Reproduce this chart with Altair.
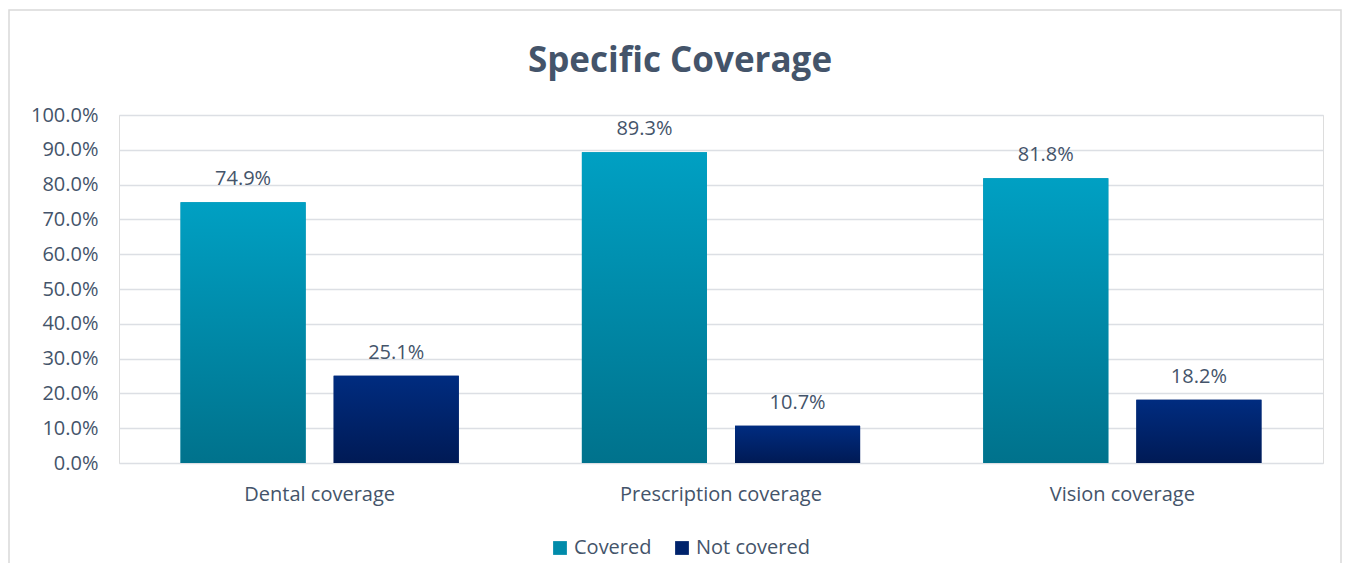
import altair as alt
import pandas as pd

categories = ["Dental coverage", "Prescription coverage", "Vision coverage"]
series_names = ["Covered", "Not covered"]
covered = [0.749, 0.893, 0.818]
not_covered = [0.251, 0.107, 0.182]

rows = []
for c, a, b in zip(categories, covered, not_covered):
    rows.append({"category": c, "series": "Covered", "value": a})
    rows.append({"category": c, "series": "Not covered", "value": b})
df = pd.DataFrame(rows)

TXT = "#44546A"
FONT = "Open Sans"
FS = 20

grad_cov = {"gradient": "linear", "x1": 0, "y1": 0, "x2": 0, "y2": 1,
            "stops": [{"offset": 0, "color": "#00A0C3"}, {"offset": 1, "color": "#00728C"}]}
grad_not = {"gradient": "linear", "x1": 0, "y1": 0, "x2": 0, "y2": 1,
            "stops": [{"offset": 0, "color": "#002C80"}, {"offset": 1, "color": "#001A55"}]}

x_enc = alt.X("category:N", sort=categories, title=None,
              scale=alt.Scale(paddingInner=0, paddingOuter=0),
              axis=alt.Axis(labelAngle=0, labelFontSize=FS, labelColor=TXT, labelFont=FONT,
                            labelPadding=21, labelLimit=0, ticks=False, domain=False, grid=False))
xo_enc = alt.XOffset("series:N", sort=series_names,
                     scale=alt.Scale(domain=series_names, paddingInner=0.183, paddingOuter=0.402))
y_enc = alt.Y("value:Q", title=None,
              scale=alt.Scale(domain=[0, 1], nice=False),
              axis=alt.Axis(format=".1%", values=[i / 10 for i in range(11)],
                            labelFontSize=FS, labelColor=TXT, labelFont=FONT, labelPadding=21,
                            ticks=False, domain=False, grid=True, gridColor="#DCDFE4",
                            gridWidth=1.5))

base = alt.Chart(df)

legend_bars = base.mark_bar().encode(
    x=x_enc, xOffset=xo_enc, y=y_enc,
    color=alt.Color("series:N", sort=series_names,
                    scale=alt.Scale(domain=series_names, range=["#008BAA", "#00236C"]),
                    legend=alt.Legend(title=None, orient="none", direction="horizontal",
                                      legendX=431, legendY=423, symbolType="square",
                                      symbolSize=190, labelFontSize=FS, labelColor=TXT,
                                      labelFont=FONT, columnPadding=20, symbolStrokeWidth=0)),
)

cov_bars = base.transform_filter("datum.series == 'Covered'").mark_bar(fill=grad_cov).encode(
    x=x_enc, xOffset=xo_enc, y=y_enc)
not_bars = base.transform_filter("datum.series == 'Not covered'").mark_bar(fill=grad_not).encode(
    x=x_enc, xOffset=xo_enc, y=y_enc)

labels = base.mark_text(dy=-17, baseline="alphabetic", fontSize=FS, color=TXT, font=FONT).encode(
    x=x_enc, xOffset=xo_enc, y=y_enc, text=alt.Text("value:Q", format=".1%"))

border = alt.Chart(pd.DataFrame({"k": [0]})).mark_rect(fill=None, stroke="#D9D9D9", strokeWidth=1.5).encode(
    x=alt.value(-110), x2=alt.value(1222), y=alt.value(-105), y2=alt.value(470))

chart = alt.layer(border, legend_bars, cov_bars, not_bars, labels).properties(
    width=1204, height=348,
    title=alt.TitleParams("Specific Coverage", fontSize=35, font=FONT, fontWeight="bold",
                          color=TXT, anchor="middle", dx=-41, offset=-98, baseline="alphabetic"),
    autosize=alt.AutoSizeParams(type="none"),
    padding={"left": 111, "top": 107, "right": 20, "bottom": 100},
).configure_view(stroke=None).configure(background="white")

chart.save("out.html", embed_options={"renderer": "svg", "actions": False})
